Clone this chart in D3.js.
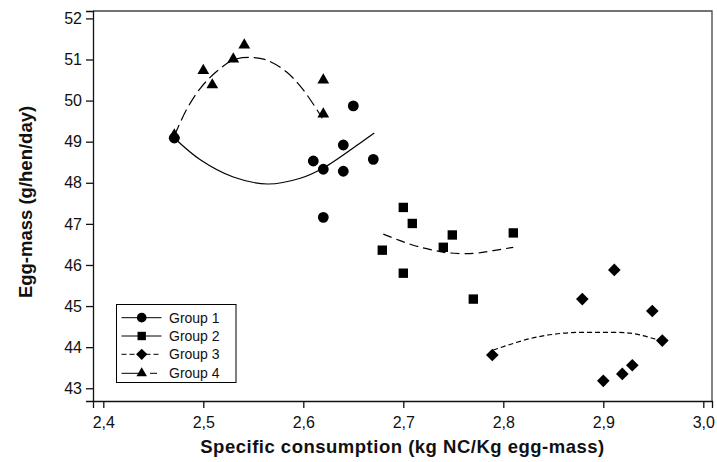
<!DOCTYPE html>
<html><head><meta charset="utf-8">
<script src="https://cdn.jsdelivr.net/npm/d3@7"></script>
<style>body{margin:0;background:#fff}svg{display:block;font-family:Arial,"Liberation Sans",sans-serif}</style>
</head><body><svg id="c" width="717" height="462"></svg>
<script>
// ---- data ----
const groups = ["Group 1", "Group 2", "Group 3", "Group 4"];
const xTicks = [2.4, 2.5, 2.6, 2.7, 2.8, 2.9, 3.0];
const yTicks = [43, 44, 45, 46, 47, 48, 49, 50, 51, 52];

const g1x = [2.471, 2.610, 2.620, 2.640, 2.640, 2.650, 2.620, 2.670];
const g1y = [49.09, 48.53, 48.33, 48.92, 48.28, 49.87, 47.16, 48.57];
const g2x = [2.700, 2.709, 2.749, 2.810, 2.679, 2.740, 2.700, 2.770];
const g2y = [47.40, 47.01, 46.73, 46.78, 46.36, 46.43, 45.80, 45.17];
const g3x = [2.789, 2.900, 2.919, 2.929, 2.959, 2.949, 2.879, 2.911];
const g3y = [43.81, 43.18, 43.35, 43.56, 44.16, 44.88, 45.17, 45.88];
const g4x = [2.471, 2.500, 2.509, 2.530, 2.541, 2.620, 2.620];
const g4y = [49.16, 50.73, 50.38, 51.01, 51.35, 50.50, 49.67];

// fitted curves
const fit1x = [2.471, 2.497, 2.530, 2.564, 2.597, 2.620, 2.657, 2.671];
const fit1y = [49.09, 48.56, 48.14, 47.97, 48.11, 48.36, 48.97, 49.21];
const fit2x = [2.680, 2.710, 2.730, 2.743, 2.770, 2.790, 2.810];
const fit2y = [46.75, 46.48, 46.36, 46.30, 46.28, 46.35, 46.43];
const fit3x = [2.790, 2.827, 2.860, 2.893, 2.927, 2.950, 2.959];
const fit3y = [43.93, 44.21, 44.34, 44.36, 44.34, 44.21, 44.13];
const fit4x = [2.471, 2.483, 2.497, 2.513, 2.530, 2.547, 2.563, 2.583, 2.600, 2.619];
const fit4y = [49.14, 49.77, 50.30, 50.70, 50.99, 51.05, 50.99, 50.70, 50.26, 49.57];

// ---- drawing ----
const svg = d3.select("#c");
const L = 93, R = 712, T = 11, B = 401;
const x = d3.scaleLinear().domain([2.3897, 3.0087]).range([L, R]);
const y = d3.scaleLinear().domain([42.69, 52.18]).range([B, T]);

const series = [
  {xs: g1x, ys: g1y, fx: fit1x, fy: fit1y, sym: d3.symbolCircle, size: 92, rot: 0, dash: null, leg: "solid"},
  {xs: g2x, ys: g2y, fx: fit2x, fy: fit2y, sym: d3.symbolSquare, size: 88, rot: 0, dash: "9,5", leg: "solid"},
  {xs: g3x, ys: g3y, fx: fit3x, fy: fit3y, sym: d3.symbolSquare, size: 80, rot: 45, dash: "5,3", leg: "dash"},
  {xs: g4x, ys: g4y, fx: fit4x, fy: fit4y, sym: d3.symbolTriangle, size: 60, rot: 0, dash: "12,5", leg: "mixed"}
];

// frame (top/right)
svg.append("path").attr("d", `M${L},${T}H${R}V${B}`).attr("fill","none").attr("stroke","#444").attr("stroke-width",1.3);

// axes
const xAxis = d3.axisBottom(x).tickValues(xTicks).tickSizeOuter(0).tickSize(7).tickPadding(9)
  .tickFormat(d => d3.format(".1f")(d).replace(".", ","));
const gx = svg.append("g").attr("transform", `translate(0,${B})`).call(xAxis);
const yAxis = d3.axisLeft(y).tickValues(yTicks).tickSizeOuter(0).tickSize(7).tickPadding(4).tickFormat(d3.format("d"));
const gy = svg.append("g").attr("transform", `translate(${L},0)`).call(yAxis);
[gx, gy].forEach(g => {
  g.selectAll("text").attr("font-size", 16).attr("fill", "#111").attr("font-family", "Arial, 'Liberation Sans', sans-serif");
  g.selectAll("line,path").attr("stroke", "#111").attr("stroke-width", 1.3);
});

// titles
svg.append("text").attr("x", (L + R) / 2).attr("y", 453).attr("text-anchor", "middle")
  .attr("font-size", 18.5).attr("font-weight", "bold").attr("fill", "#111").attr("letter-spacing", 0.5)
  .text("Specific consumption (kg NC/Kg egg-mass)");
svg.append("text").attr("transform", `translate(32,${(T + B) / 2 - 4}) rotate(-90)`).attr("text-anchor", "middle")
  .attr("font-size", 18.5).attr("font-weight", "bold").attr("fill", "#111")
  .text("Egg-mass (g/hen/day)");

// fitted curves
const line = d3.line().x(d => x(d[0])).y(d => y(d[1])).curve(d3.curveCatmullRom);
series.forEach(s => {
  svg.append("path").datum(s.fx.map((v, i) => [v, s.fy[i]])).attr("d", line)
    .attr("fill", "none").attr("stroke", "#000").attr("stroke-width", 1.2)
    .attr("stroke-dasharray", s.dash);
});

// points
series.forEach(s => {
  svg.append("g").selectAll("path").data(s.xs.map((v, i) => [v, s.ys[i]])).join("path")
    .attr("transform", d => `translate(${x(d[0])},${y(d[1])}) rotate(${s.rot})`)
    .attr("d", d3.symbol().type(s.sym).size(s.size)).attr("fill", "#000");
});

// legend
const lg = svg.append("g");
lg.append("rect").attr("x", 116.5).attr("y", 304.5).attr("width", 119.5).attr("height", 78)
  .attr("fill", "#fff").attr("stroke", "#000").attr("stroke-width", 1);
const rowsY = [317.7, 336, 354.3, 373.3];
series.forEach((s, i) => {
  const yy = rowsY[i];
  if (s.leg === "solid") {
    lg.append("line").attr("x1", 121.5).attr("x2", 161.5).attr("y1", yy).attr("y2", yy).attr("stroke", "#000").attr("stroke-width", 1);
  } else if (s.leg === "dash") {
    lg.append("line").attr("x1", 121.5).attr("x2", 161.5).attr("y1", yy).attr("y2", yy).attr("stroke", "#000").attr("stroke-width", 1).attr("stroke-dasharray", "5,3");
  } else {
    lg.append("line").attr("x1", 121.5).attr("x2", 141.5).attr("y1", yy).attr("y2", yy).attr("stroke", "#000").attr("stroke-width", 1);
    lg.append("line").attr("x1", 150).attr("x2", 157).attr("y1", yy).attr("y2", yy).attr("stroke", "#000").attr("stroke-width", 1);
  }
  lg.append("path").attr("transform", `translate(141.7,${yy}) rotate(${s.rot})`).attr("d", d3.symbol().type(s.sym).size(s.size * 0.8)).attr("fill", "#000");
  lg.append("text").attr("x", 169).attr("y", yy + 5).attr("font-size", 14).attr("fill", "#111").text(groups[i]);
});
</script></body></html>
